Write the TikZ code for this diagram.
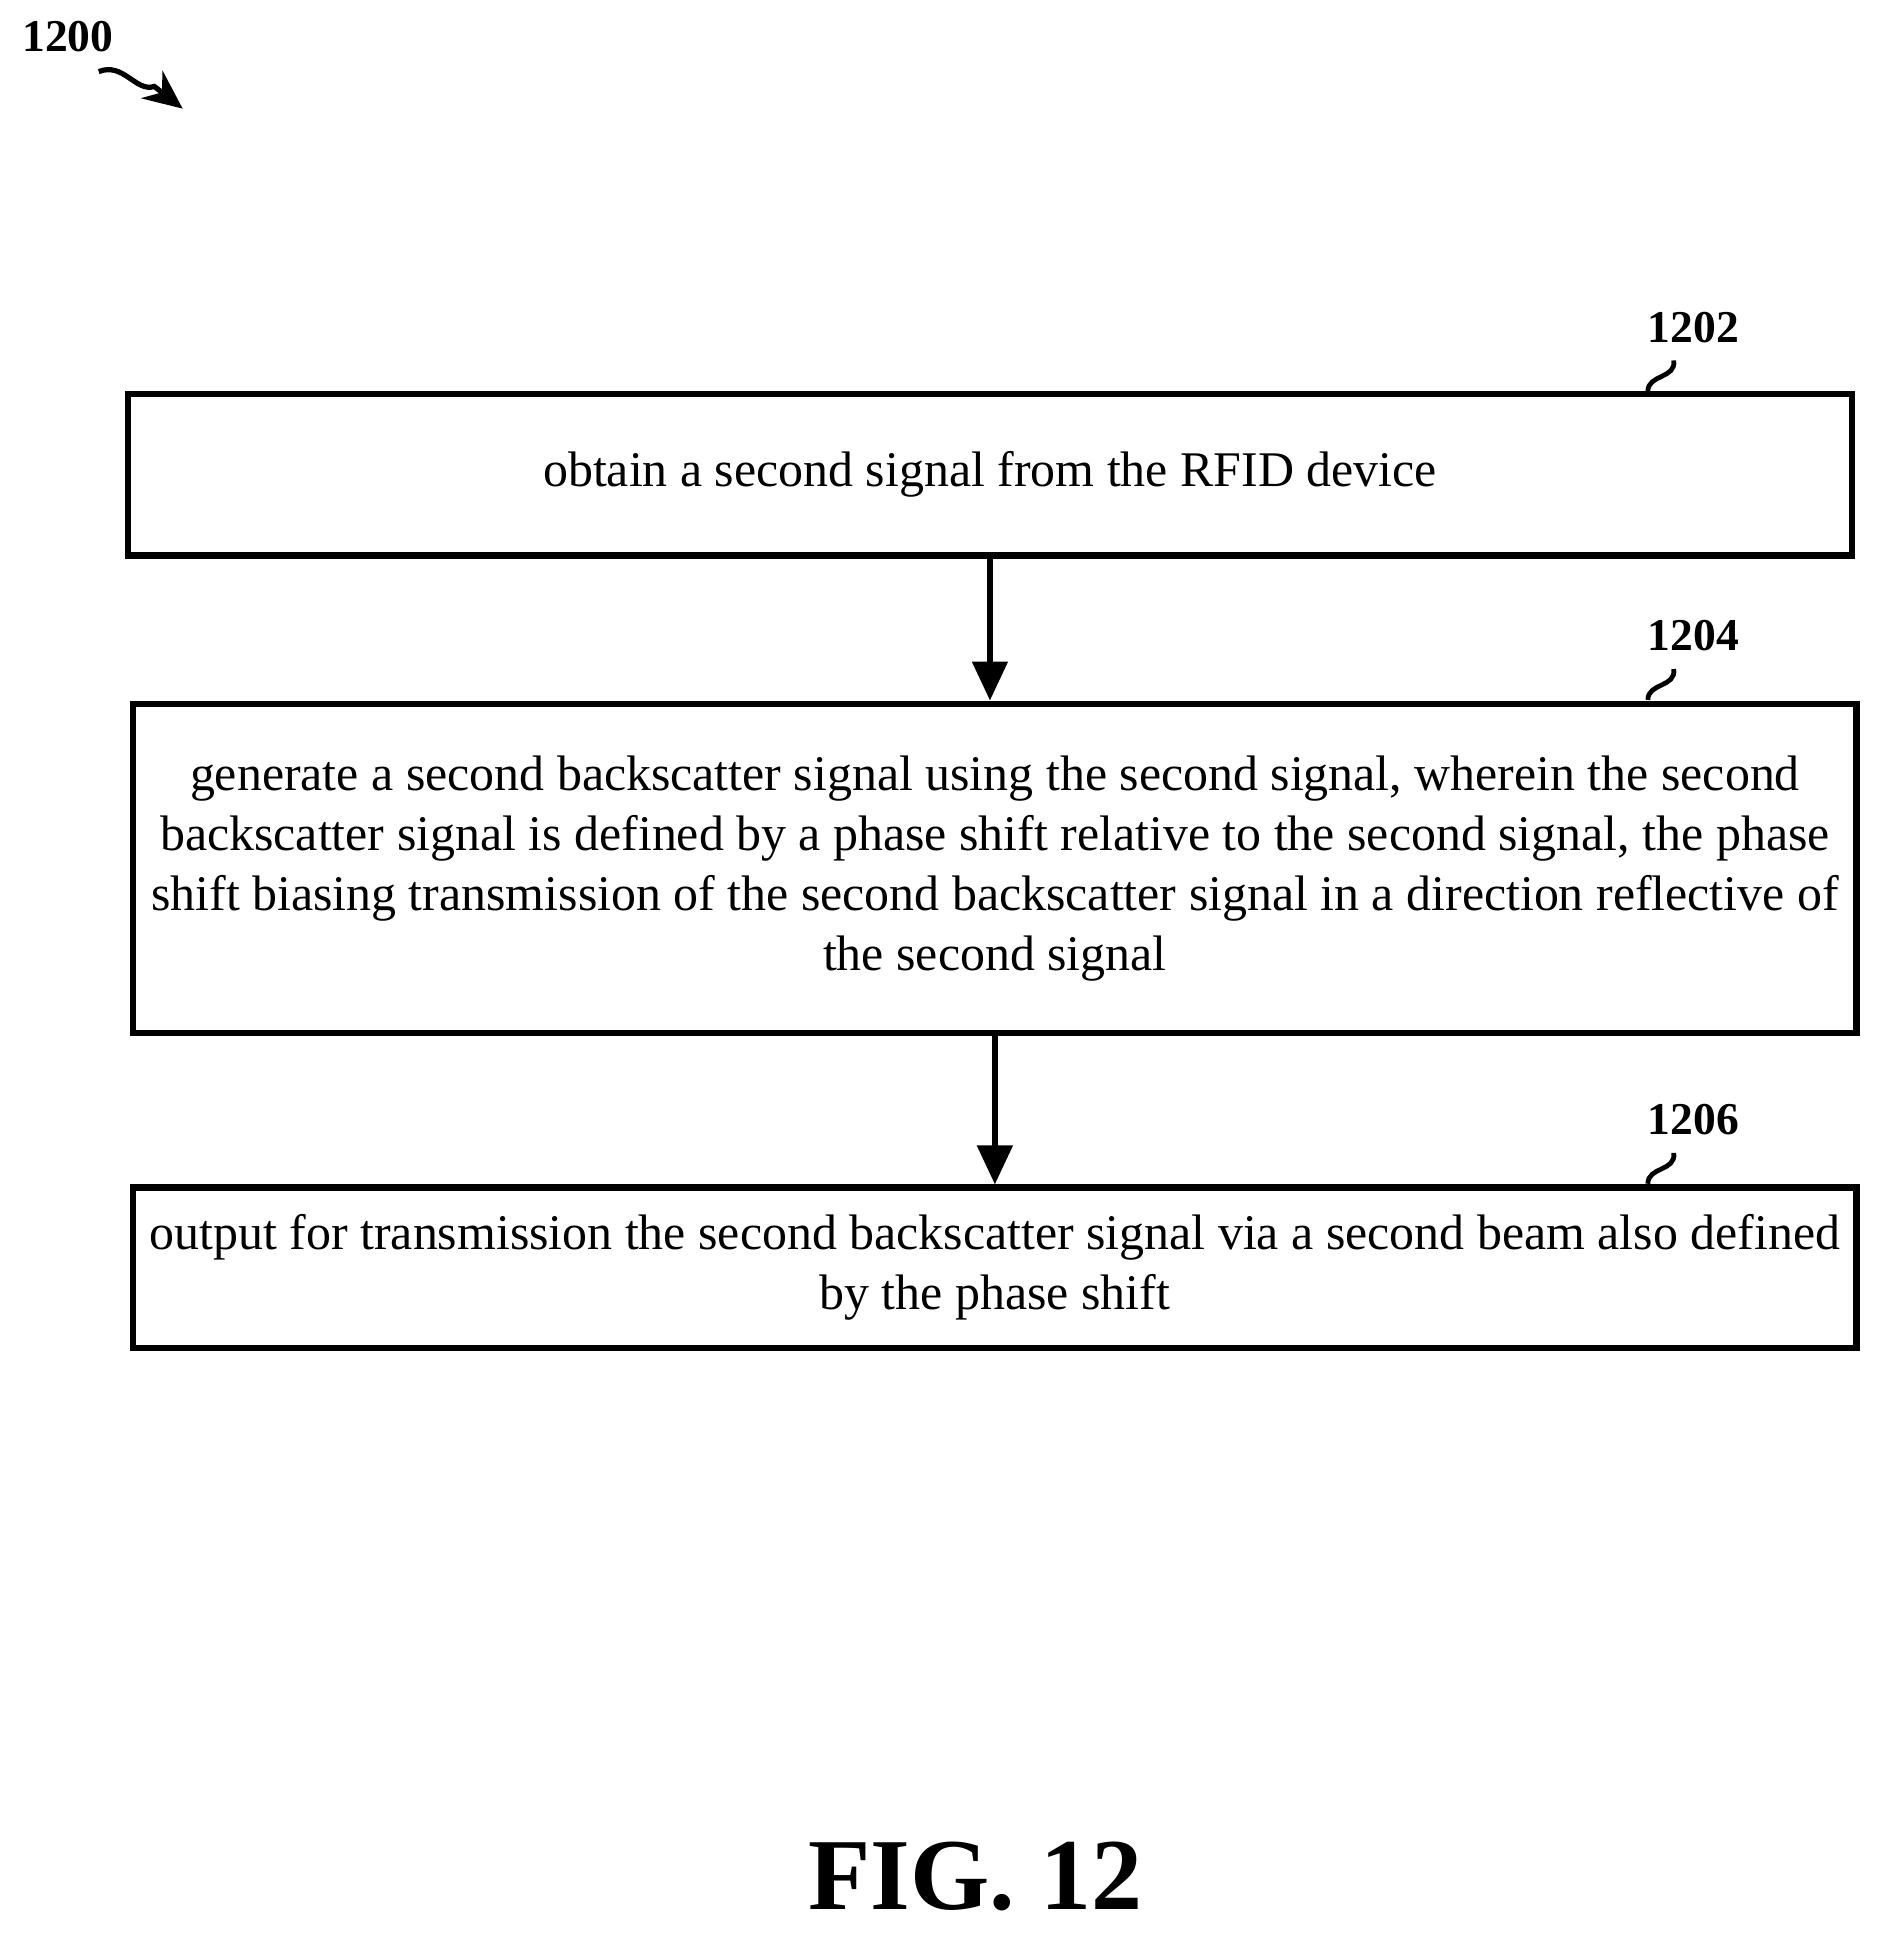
\documentclass[tikz,border=0pt]{standalone}
\usepackage{fontspec}
\setmainfont{Liberation Serif}
\usetikzlibrary{positioning,arrows.meta}
\tikzset{
  stepbox/.style={draw,line width=1.4pt,minimum width=13.96cm,align=center,
    font=\fontsize{11.5}{13.8}\selectfont,inner sep=0pt},
  tag/.style={font=\bfseries\fontsize{10.5}{12}\selectfont},
  flow/.style={-{Triangle[length=9pt,width=8pt]},line width=1.4pt}
}
\begin{document}
\begin{tikzpicture}
\useasboundingbox (0,0) rectangle (15.2,-15.66);
\node[tag] (fig) at (0.55,-0.3) {1200};
\coordinate (figend) at (1.48,-0.88);
\draw[-{Stealth[length=9pt,width=8pt]},line width=1.2pt] (0.8,-0.58) .. controls (1.0,-0.5) and (1.1,-0.75) .. (1.25,-0.7) -- (figend);

\node[stepbox,minimum height=1.31cm] (s1) at (8.02,-3.845) {obtain a second signal from the RFID device};
\node[stepbox,minimum height=2.67cm] (s2) at (8.06,-7.035) {generate a second backscatter signal using the second signal, wherein the second\\ backscatter signal is defined by a phase shift relative to the second signal, the phase\\ shift biasing transmission of the second backscatter signal in a direction reflective of\\ the second signal};
\node[stepbox,minimum height=1.30cm] (s3) at (8.06,-10.27) {output for transmission the second backscatter signal via a second beam also defined\\ by the phase shift};

\draw[flow] (s1.south) -- (s1.south |- s2.north);
\draw[flow] (s2.south) -- (s3.north);

% reference labels
\foreach \s/\t/\y in {s1/1202/-2.65, s2/1204/-5.15, s3/1206/-9.07}{
  \node[tag] (t\t) at (13.72,\y) {\t};
  \draw[line width=1.1pt] (13.35,\y-0.52) .. controls (13.35,\y-0.38) and (13.58,\y-0.42) .. (13.56,\y-0.27);
}

\node[font=\bfseries\fontsize{23.5}{26}\selectfont] (title) at (7.9,-15.2) {FIG. 12};
\end{tikzpicture}
\end{document}
